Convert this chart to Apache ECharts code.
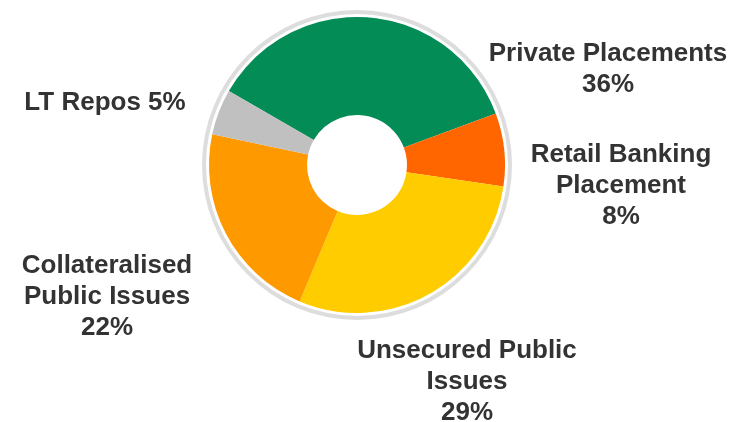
<!DOCTYPE html>
<html>
<head>
<meta charset="utf-8">
<script src="https://cdn.jsdelivr.net/npm/echarts@6/dist/echarts.min.js"></script>
<style>
  html, body { margin: 0; padding: 0; background: #fff; }
  #chart { width: 748px; height: 422px; }
</style>
</head>
<body>
<div id="chart"></div>
<script>
// Funding mix by source (percent of total)
const categories = [
  'Private Placements',
  'Retail Banking\nPlacement',
  'Unsecured Public\nIssues',
  'Collateralised\nPublic Issues',
  'LT Repos'
];
const shares = [36, 8, 29, 22, 5];
const sliceColors = ['#038c56', '#ff6600', '#ffcc00', '#ff9900', '#c0c0c0'];

// Label anchor points (block centres) for each slice
const labelSpots = [
  [608, 69],
  [621, 186],
  [467, 382],
  [107, 297],
  [105, 103]
];

const chart = echarts.init(document.getElementById('chart'), null, { renderer: 'canvas' });

chart.setOption({
  animation: false,
  backgroundColor: '#ffffff',
  series: [
    {
      // thin grey halo around the donut
      type: 'pie',
      silent: true,
      center: [357, 165],
      radius: [151, 155],
      label: { show: false },
      labelLine: { show: false },
      itemStyle: { color: '#dddddd' },
      data: [1]
    },
    {
      type: 'pie',
      center: [357, 165],
      radius: [50, 148],
      startAngle: 150,
      clockwise: true,
      avoidLabelOverlap: false,
      itemStyle: { borderWidth: 0 },
      labelLine: { show: false },
      label: {
        show: true,
        position: 'outside',
        color: '#333333',
        fontFamily: '"Liberation Sans", Arial, Helvetica, sans-serif',
        fontWeight: 'bold',
        fontSize: 26,
        lineHeight: 31,
        align: 'center',
        formatter: function (p) {
          const sep = p.dataIndex === 4 ? ' ' : '\n';
          return p.name + sep + p.value + '%';
        }
      },
      labelLayout: function (params) {
        const s = labelSpots[params.dataIndex];
        return { x: s[0], y: s[1], align: 'center', verticalAlign: 'middle' };
      },
      data: categories.map(function (c, i) {
        return { name: c, value: shares[i], itemStyle: { color: sliceColors[i] } };
      })
    }
  ]
});
</script>
</body>
</html>
